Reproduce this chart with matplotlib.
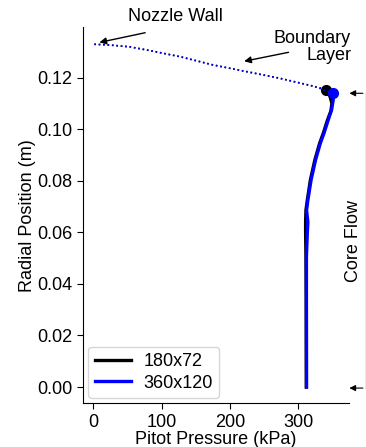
import numpy as np
import matplotlib
matplotlib.use('Agg')
import matplotlib.pyplot as plt

plt.rcParams['font.family'] = ['Liberation Sans', 'DejaVu Sans']

# boundary layer (dotted), shared by both grids
bl_p = [1.5, 24.5, 53.7, 78.2, 127.0, 175.3, 224.6, 273.4, 321.7]
bl_r = [0.1329, 0.1326, 0.1319, 0.1307, 0.1281, 0.1249, 0.1223, 0.1197, 0.1167]

# edge of boundary layer
edge_180 = (341.5, 0.1153)
edge_360 = (351.5, 0.1140)

# core flow, 180x72
core_180_p = [341.5, 347.0, 349.5, 348.0, 343.0, 337.0, 331.5, 324.5, 318.0, 313.5, 311.5, 311.0, 311.0, 311.5, 311.8, 312.0]
core_180_r = [0.1153, 0.1125, 0.1100, 0.1070, 0.1035, 0.0985, 0.0945, 0.0880, 0.0803, 0.0725, 0.0686, 0.0640, 0.0600, 0.0504, 0.0337, 0.0]

# core flow, 360x120
core_360_p = [351.5, 351.4, 349.0, 344.0, 338.0, 332.5, 325.5, 319.0, 314.3, 312.4, 314.3, 313.5, 312.2, 312.2, 312.4]
core_360_r = [0.1140, 0.1113, 0.1074, 0.1035, 0.0985, 0.0945, 0.0880, 0.0803, 0.0725, 0.0686, 0.0640, 0.0600, 0.0504, 0.0337, 0.0]

fig = plt.figure(figsize=(3.66, 4.47), dpi=100)
ax = fig.add_axes([0.2268, 0.0978, 0.9544 - 0.2268, 0.9396 - 0.0978])

# 180x72
ax.plot(bl_p + [edge_180[0]], bl_r + [edge_180[1]], color='black', ls=':', lw=1.2)
ax.plot(core_180_p, core_180_r, color='black', lw=2.4, label='180x72')
ax.plot(*edge_180, 'o', color='black', ms=7)

# 360x120
ax.plot(bl_p + [edge_360[0]], bl_r + [edge_360[1]], color='blue', ls=':', lw=1.2)
ax.plot(core_360_p, core_360_r, color='blue', lw=2.4, label='360x120')
ax.plot(*edge_360, 'o', color='blue', ms=7)

ax.set_xlim(-15, 375)
ax.set_ylim(-0.0063, 0.1396)
ax.set_xticks([0, 100, 200, 300])
ax.set_yticks([0.0, 0.02, 0.04, 0.06, 0.08, 0.10, 0.12])
ax.set_yticklabels(['0.00', '0.02', '0.04', '0.06', '0.08', '0.10', '0.12'])
ax.tick_params(labelsize=13, length=4)
ax.set_xlabel('Pitot Pressure (kPa)', fontsize=13, labelpad=0)
ax.set_ylabel('Radial Position (m)', fontsize=13, labelpad=1)
ax.spines['top'].set_visible(False)
ax.spines['right'].set_visible(False)

arrow = dict(arrowstyle='-|>', color='black', lw=1, mutation_scale=10)
ax.annotate('', xy=(5, 0.1334), xytext=(80, 0.1376), arrowprops=arrow, annotation_clip=False)
ax.text(121, 0.1435, 'Nozzle Wall', fontsize=13, ha='center', va='center', clip_on=False)
ax.annotate('', xy=(217, 0.1261), xytext=(290, 0.1300), arrowprops=arrow, annotation_clip=False)
ax.text(321, 0.1318, 'Boundary\nLayer', fontsize=13, ha='center', va='center',
        multialignment='right', linespacing=1.0, clip_on=False)

# core flow bracket
ax.plot([399, 399], [0.1139, -0.0004], color='gray', lw=1, clip_on=False)
ax.annotate('', xy=(371, 0.1139), xytext=(399, 0.1139),
            arrowprops=dict(arrowstyle='-|>', color='black', lw=0.8, mutation_scale=9),
            annotation_clip=False)
ax.annotate('', xy=(371, -0.0004), xytext=(399, -0.0004),
            arrowprops=dict(arrowstyle='-|>', color='black', lw=0.8, mutation_scale=9),
            annotation_clip=False)
ax.text(381, 0.0566, 'Core Flow', fontsize=13, rotation=90, ha='center', va='center', clip_on=False)

ax.legend(loc='lower left', fontsize=13, handlelength=2.0, borderaxespad=0.3,
          labelspacing=0.25, borderpad=0.35, handletextpad=0.7)

fig.savefig('out.png', dpi=100)
